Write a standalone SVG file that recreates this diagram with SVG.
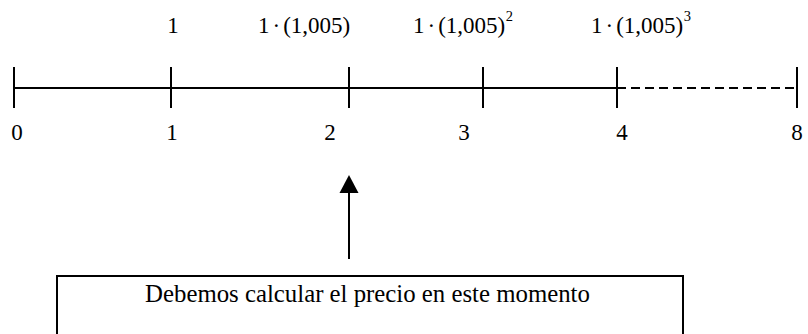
<svg xmlns="http://www.w3.org/2000/svg" width="808" height="334" viewBox="0 0 808 334">
<defs>
<style>
.t{font-family:"Liberation Serif","Times New Roman",serif;font-size:23px;fill:#000}
.sup{font-size:14.5px}
.ln{stroke:#000;stroke-width:2;fill:none}
</style>
</defs>
<rect width="808" height="334" fill="#fff"/>
<g id="timeline">
<line class="ln" x1="14" y1="88" x2="617" y2="88"/>
<line class="ln" x1="617" y1="88" x2="797" y2="88" stroke-dasharray="9,5"/>
<line class="ln" x1="14" y1="67" x2="14" y2="108"/>
<line class="ln" x1="171" y1="67" x2="171" y2="108"/>
<line class="ln" x1="349" y1="67" x2="349" y2="108"/>
<line class="ln" x1="483" y1="67" x2="483" y2="108"/>
<line class="ln" x1="617" y1="67" x2="617" y2="108"/>
<line class="ln" x1="797" y1="67" x2="797" y2="108"/>
</g>
<g id="top-labels">
<text class="t" x="173" y="33" text-anchor="middle">1</text>
<text class="t" x="258" y="33">1<tspan dx="3">·</tspan><tspan dx="3">(1,005)</tspan></text>
<text class="t" x="413" y="33">1<tspan dx="3">·</tspan><tspan dx="3">(1,005)</tspan><tspan class="sup" dy="-12" dx="0.5">2</tspan></text>
<text class="t" x="591" y="33">1<tspan dx="3">·</tspan><tspan dx="3">(1,005)</tspan><tspan class="sup" dy="-12" dx="0.5">3</tspan></text>
</g>
<g id="bottom-labels">
<text class="t" x="17" y="140" text-anchor="middle">0</text>
<text class="t" x="172" y="140" text-anchor="middle">1</text>
<text class="t" x="330" y="140" text-anchor="middle">2</text>
<text class="t" x="464" y="140" text-anchor="middle">3</text>
<text class="t" x="622" y="140" text-anchor="middle">4</text>
<text class="t" x="797" y="140" text-anchor="middle">8</text>
</g>
<g id="connectors">
<line class="ln" x1="349" y1="259" x2="349" y2="192"/>
<polygon points="349,175 339.5,193 358.5,193" fill="#000"/>
</g>
<g id="note">
<rect x="57" y="276" width="626" height="70" fill="none" stroke="#000" stroke-width="2"/>
<text class="t" x="367.5" y="302" text-anchor="middle" style="font-size:24.8px">Debemos calcular el precio en este momento</text>
</g>
</svg>
